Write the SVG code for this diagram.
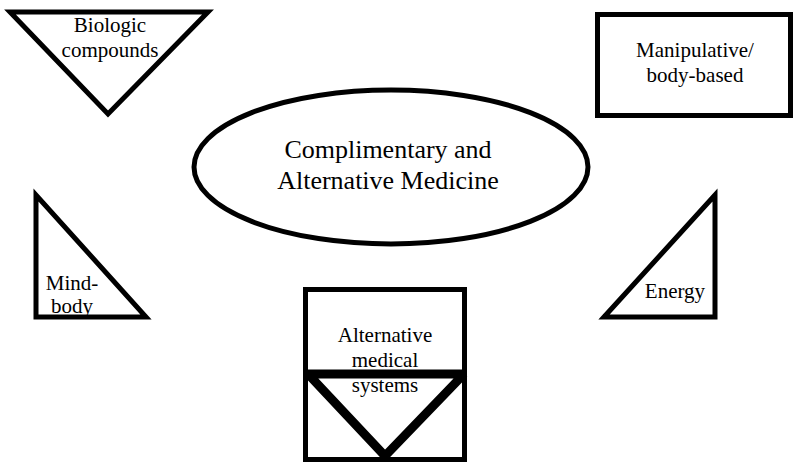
<svg xmlns="http://www.w3.org/2000/svg" width="800" height="469" viewBox="0 0 800 469">
<rect width="800" height="469" fill="#fff"/>
<g fill="#fff" stroke="#000" stroke-width="5">
<g id="biologic-shape"><polygon points="10,12 208,12 108,114"/></g>
<g id="manipulative-shape"><rect x="597.5" y="14.5" width="193" height="101"/></g>
<g id="cam-shape"><ellipse cx="391" cy="167" rx="197" ry="77"/></g>
<g id="mindbody-shape"><polygon points="36,195 36,317 146,317"/></g>
<g id="energy-shape"><polygon points="604,317 715,195 715,317"/></g>
<g id="alternative-shape"><rect x="305.5" y="289.5" width="159" height="170"/>
<polygon points="308,374 464,374 385,456" fill="none" stroke-width="9" stroke-linejoin="bevel"/></g>
</g>
<g id="biologic">
<text x="110" y="32" font-family="Liberation Serif" font-size="21" text-anchor="middle">Biologic</text>
<text x="110" y="57" font-family="Liberation Serif" font-size="21" text-anchor="middle">compounds</text>
</g>
<g id="manipulative">
<text x="695" y="57" font-family="Liberation Serif" font-size="21" text-anchor="middle">Manipulative/</text>
<text x="695" y="82" font-family="Liberation Serif" font-size="21" text-anchor="middle">body-based</text>
</g>
<g id="cam">
<text x="388" y="158" font-family="Liberation Serif" font-size="26" text-anchor="middle">Complimentary and</text>
<text x="388" y="189" font-family="Liberation Serif" font-size="26" text-anchor="middle">Alternative Medicine</text>
</g>
<g id="mindbody">
<text x="72" y="290" font-family="Liberation Serif" font-size="21" text-anchor="middle">Mind-</text>
<text x="72" y="313" font-family="Liberation Serif" font-size="21" text-anchor="middle">body</text>
</g>
<g id="energy">
<text x="675" y="298" font-family="Liberation Serif" font-size="21" text-anchor="middle">Energy</text>
</g>
<g id="alternative">
<text x="385" y="342" font-family="Liberation Serif" font-size="21" text-anchor="middle">Alternative</text>
<text x="385" y="367" font-family="Liberation Serif" font-size="21" text-anchor="middle">medical</text>
<text x="385" y="392" font-family="Liberation Serif" font-size="21" text-anchor="middle">systems</text>
</g>
<g id="connectors"></g>
</svg>
